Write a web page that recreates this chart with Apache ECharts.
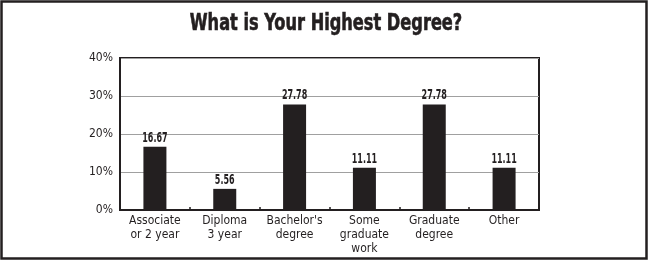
<!DOCTYPE html>
<html>
<head>
<meta charset="utf-8">
<script src="https://cdn.jsdelivr.net/npm/echarts@6/dist/echarts.min.js"></script>
<style>
html,body{margin:0;padding:0;background:#fff;}
#c{width:650px;height:262px;}
</style>
</head>
<body>
<div id="c"></div>
<script>
const categories = ["Associate\nor 2 year", "Diploma\n3 year", "Bachelor's\ndegree", "Some\ngraduate\nwork", "Graduate\ndegree", "Other"];
const values = [16.67, 5.56, 27.78, 11.11, 27.78, 11.11];
const yTicks = [0, 10, 20, 30, 40];
const titleText = "What is Your Highest Degree?";

const FONT = '"DejaVu Sans Condensed", "Liberation Sans Narrow", sans-serif';
const INK = '#231f20';
const chart = echarts.init(document.getElementById('c'), null, {renderer: 'canvas'});
chart.setOption({
  animation: false,
  backgroundColor: '#fff',
  graphic: [{
    type: 'rect',
    shape: {x: 1.5, y: 1.5, width: 645, height: 257},
    style: {fill: 'none', stroke: INK, lineWidth: 2.5},
    silent: true
  }, {
    type: 'text',
    x: 326, y: 24.5,
    scaleX: 0.8,
    silent: true,
    style: {
      text: titleText,
      textAlign: 'center', textVerticalAlign: 'middle',
      fontFamily: FONT, fontWeight: 'bold', fontSize: 22.5, fill: INK,
      stroke: INK, lineWidth: 0.6
    }
  }],
  grid: {
    left: 120, right: 111, top: 58, bottom: 52,
    show: true, borderColor: INK, borderWidth: 2, backgroundColor: 'transparent'
  },
  xAxis: {
    type: 'category',
    data: categories,
    axisLine: {show: true, lineStyle: {color: INK, width: 2}},
    axisTick: {show: true, inside: true, length: 3, alignWithLabel: false, lineStyle: {color: INK, width: 1.5}},
    axisLabel: {fontFamily: FONT, fontSize: 12, color: INK, lineHeight: 14, margin: 4, interval: 0}
  },
  yAxis: {
    type: 'value',
    min: yTicks[0], max: yTicks[yTicks.length - 1], interval: 10,
    axisLine: {show: true, lineStyle: {color: INK, width: 2}},
    axisTick: {show: false},
    splitLine: {show: true, lineStyle: {color: '#a0a0a0', width: 1}},
    axisLabel: {fontFamily: FONT, fontSize: 12, color: INK, margin: 7, formatter: v => v + '%'}
  },
  series: [{
    type: 'bar',
    data: values,
    barWidth: 23,
    itemStyle: {color: INK}
  }, {
    type: 'custom',
    data: values.map((v, i) => [i, v]),
    z: 5,
    silent: true,
    renderItem: function (params, api) {
      const pt = api.coord([api.value(0), api.value(1)]);
      return {
        type: 'text',
        x: pt[0], y: pt[1] - 1.5,
        scaleX: 0.66,
        style: {
          text: api.value(1).toFixed(2),
          textAlign: 'center', textVerticalAlign: 'bottom',
          fontFamily: FONT, fontWeight: 'bold', fontSize: 13.5, fill: INK
        }
      };
    }
  }]
});
</script>
</body>
</html>
